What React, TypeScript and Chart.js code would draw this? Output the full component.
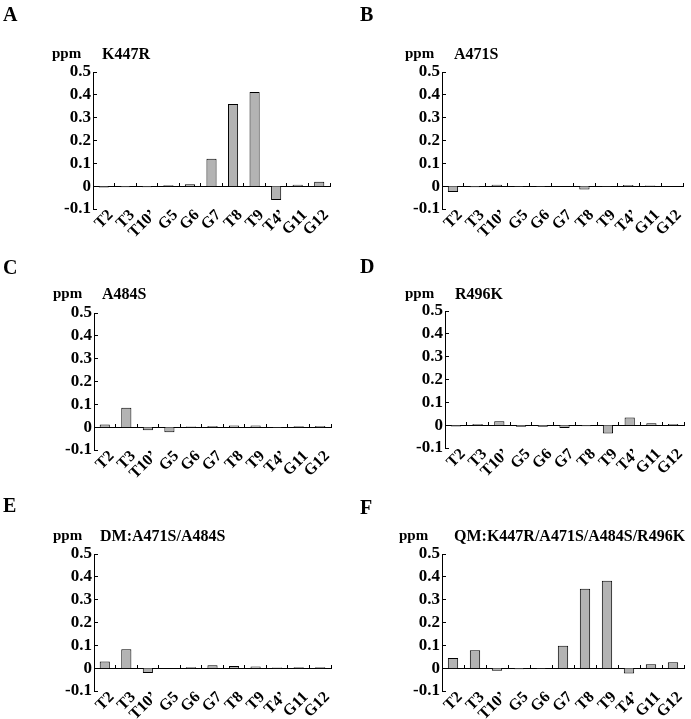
import React, { useEffect, useRef } from 'react';
import { Chart, registerables } from 'chart.js';

Chart.register(...registerables);

// ---------- data ----------
const CATEGORIES = ['T2', 'T3', 'T10\u2019', 'G5', 'G6', 'G7', 'T8', 'T9', 'T4\u2019', 'G11', 'G12'];
const Y_TICK_LABELS = ['-0.1', '0', '0.1', '0.2', '0.3', '0.4', '0.5'];

const K447R_VALUES = [-0.006, -0.005, -0.005, 0.004, 0.008, 0.12, 0.36, 0.412, -0.061, 0.006, 0.019];
const A471S_VALUES = [-0.026, -0.005, 0.006, -0.004, -0.004, 0, -0.015, -0.003, 0.005, 0.003, 0];
const A484S_VALUES = [0.012, 0.085, -0.013, -0.022, 0.003, 0.005, 0.007, 0.007, -0.004, 0.004, 0.005];
const R496K_VALUES = [-0.006, 0.005, 0.017, -0.007, -0.007, -0.012, -0.005, -0.037, 0.034, 0.008, 0.005];
const DM_VALUES = [0.029, 0.083, -0.021, 0, 0.004, 0.013, 0.009, 0.007, 0.003, 0.004, 0.004];
const QM_VALUES = [0.044, 0.079, -0.011, -0.005, -0.004, 0.098, 0.348, 0.383, -0.023, 0.017, 0.026];

const PANEL_LETTERS = ['A', 'B', 'C', 'D', 'E', 'F'];
const MUTANT_NAMES = ['K447R', 'A471S', 'A484S', 'R496K', 'DM:A471S/A484S', 'QM:K447R/A471S/A484S/R496K'];
const SERIES = [K447R_VALUES, A471S_VALUES, A484S_VALUES, R496K_VALUES, DM_VALUES, QM_VALUES];

// ---------- layout ----------
const FONT = "'Liberation Serif', 'Times New Roman', serif";
const CANVAS_W = 346;
const CANVAS_H = 240;
const AREA_H = 137;
const Y_W = 50;
const X_H = 30;

const PANEL_LAYOUT = [
  { x0: 0, y0: 0, axisX: 93, top: 72, right: 330, letterX: 3, letterBase: 21, ppmX: 52, nameX: 102, textBase: 59 },
  { x0: 345, y0: 0, axisX: 442, top: 72, right: 683, letterX: 360, letterBase: 21, ppmX: 405, nameX: 454, textBase: 59 },
  { x0: 0, y0: 240, axisX: 94, top: 313, right: 331, letterX: 3, letterBase: 274, ppmX: 53, nameX: 102, textBase: 299 },
  { x0: 345, y0: 240, axisX: 445, top: 311, right: 684, letterX: 360, letterBase: 273, ppmX: 405, nameX: 455, textBase: 299 },
  { x0: 0, y0: 480, axisX: 94, top: 554, right: 331, letterX: 3, letterBase: 512, ppmX: 53, nameX: 100, textBase: 541 },
  { x0: 345, y0: 480, axisX: 442, top: 554, right: 684, letterX: 360, letterBase: 514, ppmX: 399, nameX: 454, textBase: 541 },
];

function Label({ text, x, base, size }: { text: string; x: number; base: number; size: number }) {
  return (
    <div
      style={{
        position: 'absolute',
        left: x,
        top: base - size * 0.8375,
        fontFamily: FONT,
        fontWeight: 'bold',
        fontSize: size,
        lineHeight: `${size}px`,
        whiteSpace: 'nowrap',
        color: '#000',
      }}
    >
      {text}
    </div>
  );
}

function Panel({ index }: { index: number }) {
  const ref = useRef<HTMLCanvasElement | null>(null);
  const L = PANEL_LAYOUT[index];

  useEffect(() => {
    if (!ref.current) return;
    const padLeft = L.axisX - L.x0 - Y_W;
    const padTop = L.top - L.y0;
    const padRight = L.x0 + CANVAS_W - L.right;
    const padBottom = L.y0 + CANVAS_H - (L.top + AREA_H) - X_H;

    const chart = new Chart(ref.current, {
      type: 'bar',
      data: {
        labels: CATEGORIES,
        datasets: [
          {
            data: SERIES[index],
            backgroundColor: '#b3b3b3',
            borderColor: '#000',
            borderWidth: 1,
            barPercentage: 0.47,
            categoryPercentage: 1,
          },
        ],
      },
      options: {
        responsive: false,
        animation: false,
        layout: { padding: { left: padLeft, top: padTop, right: padRight, bottom: padBottom } },
        plugins: { legend: { display: false }, tooltip: { enabled: false }, title: { display: false } },
        scales: {
          x: {
            type: 'category',
            position: 'bottom',
            offset: true,
            grid: { display: false, drawTicks: false, offset: true },
            border: { display: false },
            ticks: {
              autoSkip: false,
              minRotation: 45,
              maxRotation: 45,
              padding: -3,
              labelOffset: 7,
              color: '#000',
              font: { family: FONT, weight: 'bold', size: 16 },
            },
            afterFit: (s: any) => {
              s.height = X_H;
            },
          },
          x2: {
            type: 'category',
            labels: CATEGORIES,
            position: { y: 0 },
            offset: true,
            grid: { offset: true, drawOnChartArea: false, drawTicks: true, tickLength: -4, color: '#000', lineWidth: 1 },
            border: { display: true, color: '#000', width: 1 },
            ticks: { display: false },
            afterFit: (s: any) => {
              s.height = 0;
            },
          },
          y: {
            type: 'linear',
            position: 'left',
            min: -0.1,
            max: 0.5,
            ticks: {
              stepSize: 0.1,
              autoSkip: false,
              padding: 6,
              color: '#000',
              font: { family: FONT, weight: 'bold', size: 17 },
              callback: (_v: any, i: number) => Y_TICK_LABELS[i],
            },
            grid: { drawOnChartArea: false, drawTicks: true, tickLength: -4, color: '#000', lineWidth: 1 },
            border: { display: true, color: '#000', width: 1 },
            afterFit: (s: any) => {
              s.width = Y_W;
            },
          },
        },
      } as any,
    });
    return () => chart.destroy();
  }, [index]);

  return (
    <>
      <canvas
        ref={ref}
        width={CANVAS_W}
        height={CANVAS_H}
        style={{ position: 'absolute', left: L.x0, top: L.y0, width: CANVAS_W, height: CANVAS_H, display: 'block' }}
      />
      <Label text={PANEL_LETTERS[index]} x={L.letterX} base={L.letterBase} size={20} />
      <Label text="ppm" x={L.ppmX} base={L.textBase} size={15} />
      <Label text={MUTANT_NAMES[index]} x={L.nameX} base={L.textBase} size={16} />
    </>
  );
}

export default function App() {
  return (
    <div
      style={{
        position: 'absolute',
        left: 0,
        top: 0,
        width: 691,
        height: 719,
        overflow: 'hidden',
        background: '#fff',
      }}
    >
      {PANEL_LAYOUT.map((_, i) => (
        <Panel key={i} index={i} />
      ))}
    </div>
  );
}
